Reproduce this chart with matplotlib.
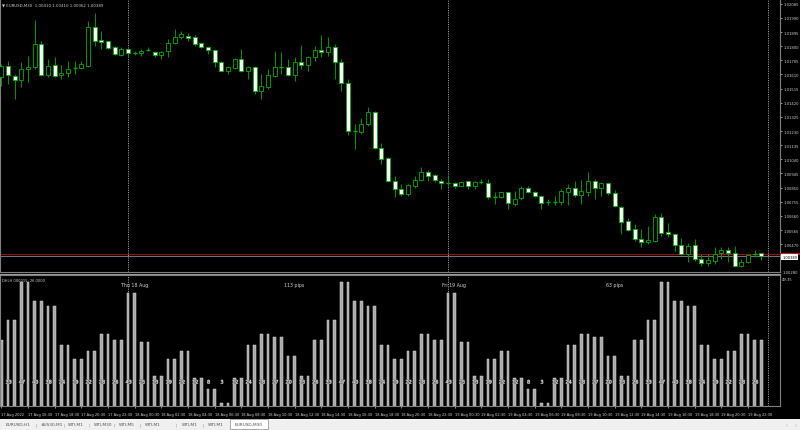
import numpy as np
import pandas as pd
import matplotlib
matplotlib.use('Agg')
import matplotlib.pyplot as plt
from matplotlib.patches import Rectangle
from matplotlib.lines import Line2D
import matplotlib.patheffects as pe

# ---------------- data ----------------
times = pd.date_range('2022-08-17 14:30', periods=115, freq='30min')

opens = [
1.01591, 1.01665, 1.01598, 1.01575, 1.01645, 1.01658, 1.01815, 1.01609, 1.01674, 1.01605,
1.01620, 1.01652, 1.01652, 1.01669, 1.01927, 1.01842, 1.01833, 1.01797, 1.01743, 1.01779,
1.01752, 1.01752, 1.01775, 1.01763, 1.01739, 1.01766, 1.01820, 1.01864, 1.01871, 1.01860,
1.01820, 1.01793, 1.01775, 1.01692, 1.01636, 1.01654, 1.01714, 1.01636, 1.01662, 1.01501,
1.01528, 1.01602, 1.01662, 1.01662, 1.01609, 1.01692, 1.01676, 1.01726, 1.01775, 1.01763,
1.01793, 1.01692, 1.01551, 1.01229, 1.01226, 1.01278, 1.01360, 1.01117, 1.01048, 1.00897,
1.00841, 1.00808, 1.00864, 1.00902, 1.00953, 1.00935, 1.00897, 1.00880, 1.00880, 1.00864,
1.00893, 1.00860, 1.00886, 1.00880, 1.00786, 1.00786, 1.00819, 1.00741, 1.00779, 1.00850,
1.00823, 1.00796, 1.00752, 1.00752, 1.00756, 1.00823, 1.00846, 1.00803, 1.00823, 1.00895,
1.00846, 1.00882, 1.00815, 1.00723, 1.00625, 1.00573, 1.00506, 1.00483, 1.00490, 1.00651,
1.00551, 1.00535, 1.00465, 1.00405, 1.00465, 1.00367, 1.00342, 1.00356, 1.00410, 1.00432,
1.00412, 1.00326, 1.00353, 1.00405, 1.00410]

highs = [
1.01681, 1.01703, 1.01613, 1.01692, 1.01736, 1.01978, 1.01837, 1.01714, 1.01730, 1.01676,
1.01703, 1.01703, 1.01703, 1.01967, 1.02023, 1.01904, 1.01837, 1.01803, 1.01793, 1.01793,
1.01770, 1.01781, 1.01793, 1.01770, 1.01770, 1.01848, 1.01916, 1.01904, 1.01887, 1.01877,
1.01826, 1.01799, 1.01781, 1.01703, 1.01665, 1.01719, 1.01781, 1.01669, 1.01669, 1.01613,
1.01647, 1.01766, 1.01759, 1.01714, 1.01730, 1.01810, 1.01736, 1.01799, 1.01877, 1.01860,
1.01815, 1.01714, 1.01580, 1.01278, 1.01316, 1.01390, 1.01367, 1.01148, 1.01054, 1.00931,
1.00875, 1.00875, 1.00931, 1.00991, 1.00971, 1.00942, 1.00909, 1.00931, 1.00886, 1.00897,
1.00897, 1.00897, 1.00909, 1.00909, 1.00819, 1.00823, 1.00823, 1.00830, 1.00860, 1.00864,
1.00830, 1.00801, 1.00774, 1.00796, 1.00841, 1.00875, 1.00897, 1.00902, 1.00953, 1.00909,
1.00890, 1.00890, 1.00837, 1.00729, 1.00645, 1.00606, 1.00573, 1.00591, 1.00674, 1.00680,
1.00611, 1.00546, 1.00512, 1.00479, 1.00506, 1.00405, 1.00405, 1.00450, 1.00450, 1.00454,
1.00457, 1.00371, 1.00405, 1.00434, 1.00410]

lows = [
1.01535, 1.01546, 1.01446, 1.01524, 1.01558, 1.01647, 1.01602, 1.01591, 1.01591, 1.01578,
1.01591, 1.01613, 1.01647, 1.01662, 1.01803, 1.01781, 1.01781, 1.01743, 1.01736, 1.01726,
1.01743, 1.01736, 1.01766, 1.01726, 1.01714, 1.01730, 1.01815, 1.01848, 1.01837, 1.01803,
1.01788, 1.01748, 1.01658, 1.01632, 1.01613, 1.01647, 1.01625, 1.01580, 1.01479, 1.01446,
1.01513, 1.01591, 1.01613, 1.01602, 1.01568, 1.01647, 1.01636, 1.01703, 1.01730, 1.01736,
1.01580, 1.01497, 1.01204, 1.01110, 1.01211, 1.01266, 1.01110, 1.01009, 1.00886, 1.00786,
1.00796, 1.00796, 1.00846, 1.00897, 1.00897, 1.00886, 1.00841, 1.00864, 1.00846, 1.00860,
1.00841, 1.00841, 1.00875, 1.00774, 1.00741, 1.00781, 1.00707, 1.00729, 1.00770, 1.00815,
1.00786, 1.00707, 1.00734, 1.00734, 1.00736, 1.00734, 1.00786, 1.00741, 1.00796, 1.00774,
1.00792, 1.00801, 1.00719, 1.00539, 1.00561, 1.00494, 1.00450, 1.00472, 1.00483, 1.00528,
1.00517, 1.00427, 1.00394, 1.00349, 1.00360, 1.00326, 1.00326, 1.00338, 1.00371, 1.00349,
1.00316, 1.00316, 1.00344, 1.00383, 1.00362]

closes = [
1.01669, 1.01607, 1.01575, 1.01647, 1.01662, 1.01815, 1.01609, 1.01669, 1.01602, 1.01622,
1.01647, 1.01650, 1.01681, 1.01927, 1.01837, 1.01830, 1.01788, 1.01748, 1.01781, 1.01752,
1.01750, 1.01770, 1.01773, 1.01743, 1.01759, 1.01820, 1.01864, 1.01882, 1.01853, 1.01815,
1.01793, 1.01777, 1.01696, 1.01636, 1.01658, 1.01714, 1.01636, 1.01662, 1.01501, 1.01535,
1.01607, 1.01658, 1.01660, 1.01609, 1.01692, 1.01676, 1.01726, 1.01775, 1.01763, 1.01793,
1.01692, 1.01551, 1.01229, 1.01226, 1.01278, 1.01360, 1.01117, 1.01043, 1.00893, 1.00841,
1.00808, 1.00868, 1.00902, 1.00953, 1.00931, 1.00904, 1.00882, 1.00878, 1.00864, 1.00890,
1.00860, 1.00890, 1.00884, 1.00786, 1.00784, 1.00819, 1.00745, 1.00774, 1.00850, 1.00823,
1.00792, 1.00745, 1.00750, 1.00754, 1.00826, 1.00846, 1.00801, 1.00826, 1.00893, 1.00850,
1.00880, 1.00815, 1.00725, 1.00618, 1.00568, 1.00506, 1.00483, 1.00499, 1.00651, 1.00544,
1.00535, 1.00465, 1.00405, 1.00461, 1.00371, 1.00344, 1.00365, 1.00405, 1.00432, 1.00412,
1.00326, 1.00353, 1.00398, 1.00407, 1.00389]

ask_price = 1.00404

# average hourly range (pips) by hour of day 0..23
hour_profile = [43, 25, 13, 19, 22, 12, 8, 3, 12, 24, 28, 27,
                20, 13, 26, 33, 47, 40, 38, 24, 19, 22, 28, 26]

price_ticks = [1.02085, 1.01990, 1.01895, 1.01800, 1.01705, 1.01610, 1.01515,
               1.01420, 1.01325, 1.01230, 1.01135, 1.01040, 1.00945, 1.00850,
               1.00755, 1.00660, 1.00565, 1.00470]
price_min, price_max = 1.00283, 1.02117
ind_min, ind_max = 2.0, 49.35

day_labels = ['Thu 18 Aug', 'Fri 19 Aug']
day_ranges = ['113 pips', '63 pips']

tabs = ['EURUSD,H1', '#US30,M1', 'WTI,M1', 'WTI,M30', 'WTI,M5',
        'WTI,M1', 'WTI,M1', 'WTI,M1', 'EURUSD,M30']

# ---------------- figure ----------------
W, H = 800, 431
fig = plt.figure(figsize=(W / 100, H / 100), dpi=100, facecolor='black')


def fy(py):
    return 1 - py / H


GREEN = '#00b000'
WICK = '#009000'
GRAY = '#808080'
TXT = '#d0d0d0'

n = len(opens)
idx = np.arange(n)
xl = (-0.2, 116.8)

ax = fig.add_axes([0, fy(273), 780 / W, 273 / H], facecolor='black')
ax2 = fig.add_axes([0, fy(407), 780 / W, 131 / H], facecolor='black')

# candles
bw = 0.62
for i in idx:
    o, h, l, c = opens[i], highs[i], lows[i], closes[i]
    ax.vlines(i, l, h, color=WICK, lw=0.75, zorder=2)
    lo, hi = min(o, c), max(o, c)
    if hi - lo < 0.00003:
        ax.hlines((o + c) / 2, i - bw / 2, i + bw / 2, color=GREEN, lw=1.0, zorder=3)
    else:
        fc = 'black' if c > o else 'white'
        ax.add_patch(Rectangle((i - bw / 2, lo), bw, hi - lo, facecolor=fc,
                               edgecolor=GREEN, lw=0.6, zorder=3))

ax.set_xlim(*xl)
ax.set_ylim(price_min, price_max)

# separators at midnight
t0 = times[0]
seps = [(pd.Timestamp(d) - t0) / pd.Timedelta('30min') for d in
        ['2022-08-18', '2022-08-19', '2022-08-20']]
for s in seps:
    for a in (ax, ax2):
        a.axvline(s, color='#9a9a9a', lw=0.7, ls=(0, (1.2, 1.2)), zorder=1)

# bid / ask lines
ax.axhline(ask_price, color='#a01010', lw=0.7, zorder=1)
ax.axhline(closes[-1], color='#707880', lw=0.7, zorder=1)

# price axis
ax.yaxis.tick_right()
ax.set_yticks(price_ticks)
ax.set_yticklabels([f'{p:.5f}' for p in price_ticks])
ax.tick_params(axis='y', length=1.5, width=0.5, colors=TXT, labelsize=2.7, pad=1)
ax.set_xticks([])
for k, sp in ax.spines.items():
    sp.set_color(GRAY)
    sp.set_linewidth(0.8)
ax.spines['top'].set_visible(False)

tr = ax.get_yaxis_transform()
# ask marker (red strip) and bid price label
ax.add_patch(Rectangle((1.0, ask_price - 0.00006), 0.026, 0.00012, transform=tr,
                       facecolor='#d01010', edgecolor='none', clip_on=False, zorder=5))
ax.text(1.003, closes[-1] - 0.00003, f'{closes[-1]:.5f}', transform=tr, fontsize=2.6,
        color='black', ha='left', va='center', clip_on=False, zorder=6,
        bbox=dict(boxstyle='square,pad=0.25', fc='white', ec='none'))
ax.text(1.003, price_min, '1.00280', transform=tr, fontsize=2.7, color=TXT,
        ha='left', va='center', clip_on=False)

# title
ax.text(0.003, 0.988, '\u25BC EURUSD,M30  ' + ' '.join(f'{v:.5f}' for v in
        (opens[-1], highs[-1], lows[-1], closes[-1])),
        transform=ax.transAxes, fontsize=2.8, color=TXT, ha='left', va='top')

# ---------------- indicator panel ----------------
hours = times.hour
ind_vals = [hour_profile[h] for h in hours]
ax2.bar(idx, ind_vals, width=0.42, bottom=0, color='#a9a9a9',
        edgecolor='#d4d4d4', lw=0.35, zorder=2)
ax2.set_xlim(*xl)
ax2.set_ylim(ind_min, ind_max)

for i in idx:
    if times[i].minute == 0:
        ax2.text(i + 0.1, 0.183, str(ind_vals[i]), transform=ax2.get_xaxis_transform(),
                 fontsize=3.5, color='white', ha='center', va='center', zorder=4,
                 path_effects=[pe.withStroke(linewidth=0.6, foreground='#606060')])

# day annotations
for lab, s in zip(day_labels, seps[:2]):
    ax2.text(s + 0.95, 0.93, lab, transform=ax2.get_xaxis_transform(),
             fontsize=3.4, color=TXT, ha='center', va='center')
for lab, s in zip(day_ranges, seps[:2]):
    ax2.text(s + 24.95, 0.93, lab, transform=ax2.get_xaxis_transform(),
             fontsize=3.4, color=TXT, ha='center', va='center')

ax2.text(0.003, 0.975, 'DHLH 000015: %.4f' % ind_vals[-1], transform=ax2.transAxes,
         fontsize=2.6, color=TXT, ha='left', va='top')
ax2.text(1.003, 0.985, f'{ind_max:.2f}', transform=ax2.transAxes, fontsize=2.7,
         color=TXT, ha='left', va='top', clip_on=False)

ax2.set_yticks([])
for k, sp in ax2.spines.items():
    sp.set_color(GRAY)
    sp.set_linewidth(0.8)

# time axis
tick_pos = list(range(0, n, 4))
tick_lab = []
for j, p in enumerate(tick_pos):
    t = times[p]
    tick_lab.append(t.strftime('%d %b %Y') if j == 0 else t.strftime('%d %b %H:%M'))
ax2.set_xticks(tick_pos)
ax2.set_xticklabels(tick_lab, ha='left')
ax2.tick_params(axis='x', length=1.5, width=0.5, colors=TXT, labelsize=2.6, pad=2.5)

# panel separator
fig.add_artist(Line2D([0, 780 / W], [fy(274.5), fy(274.5)], color='#9a9a9a', lw=0.8))

# ---------------- tab bar ----------------
fig.add_artist(Rectangle((0, 0), 1, 11 / H, transform=fig.transFigure,
                         facecolor='#f0f0f0', edgecolor='none'))
tab_x = [6, 41, 68, 94, 119, 145, 182, 208, 235]
sep_x = [36, 64, 89, 114, 140, 176, 203]
fig.add_artist(Rectangle((230 / W, 1 / H), 38 / W, 10 / H, transform=fig.transFigure,
                         facecolor='white', edgecolor='#9a9a9a', lw=0.6))
for t, x in zip(tabs, tab_x):
    fig.text(x / W, fy(425.5), t, fontsize=3.1, color='#505050', ha='left', va='center')
for x in sep_x:
    fig.text(x / W, fy(425.5), '|', fontsize=3.1, color='#909090', ha='center', va='center')
fig.text(787 / W, fy(425.5), '\u2039', fontsize=3.5, color='#909090', ha='center', va='center')
fig.text(795 / W, fy(425.5), '\u203A', fontsize=3.5, color='#909090', ha='center', va='center')

fig.savefig('out.png', dpi=100, facecolor='black')
